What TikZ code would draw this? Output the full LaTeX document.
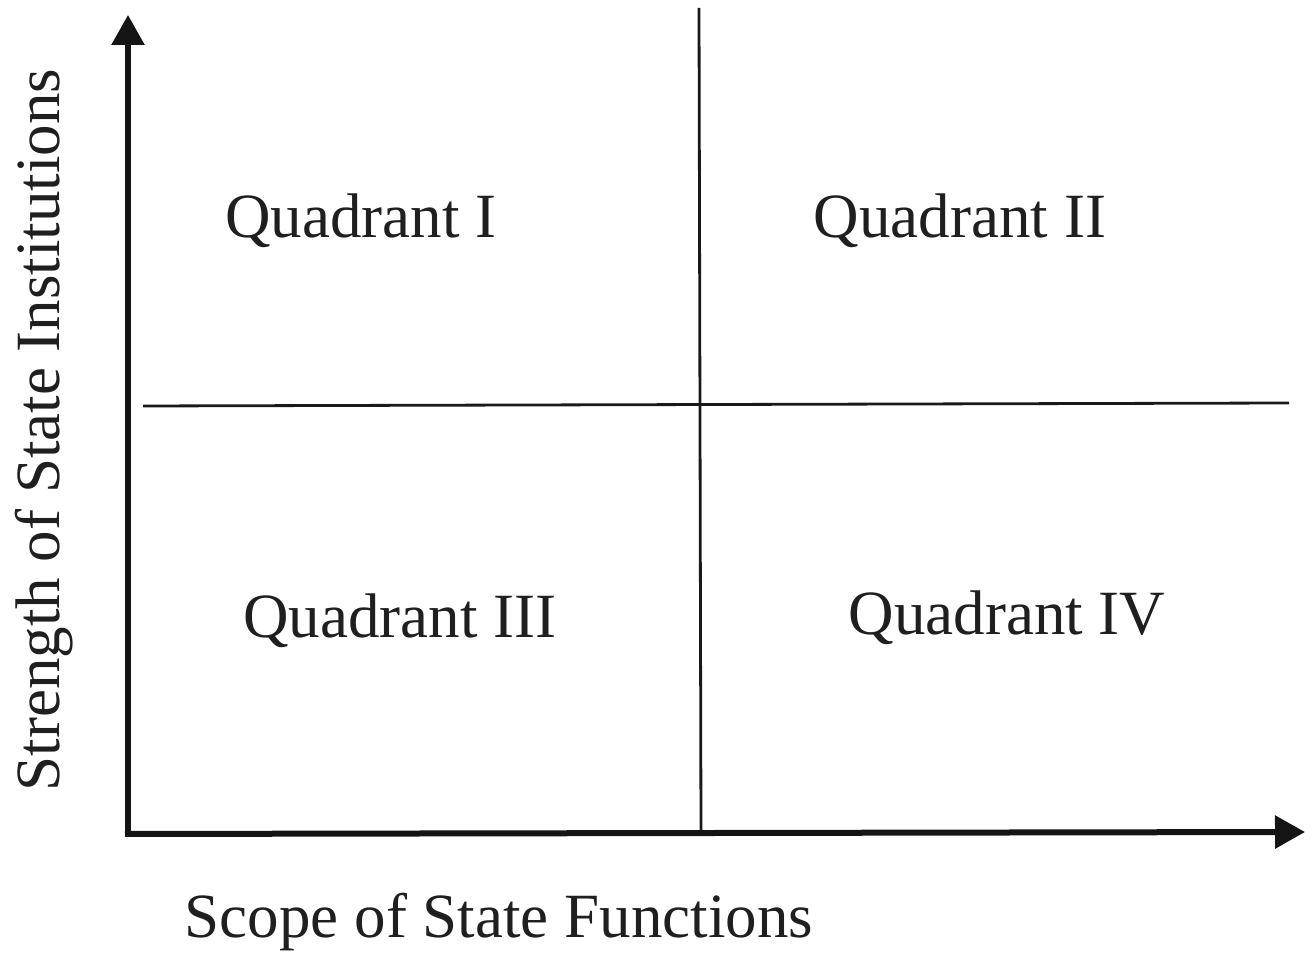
\documentclass[tikz,border=0pt]{standalone}
\usepackage{fontspec}
\setmainfont{Liberation Serif}
\usepackage{tikz}
\usetikzlibrary{arrows.meta,positioning}
\tikzset{
  bigfont/.style={font=\fontsize{31.5}{36}\selectfont},
  axisline/.style={line width=3pt, draw=black!92, -{Triangle[length=15pt,width=16pt]}},
  divline/.style={line width=1.4pt, draw=black!90},
  quadlbl/.style={bigfont, anchor=base, inner sep=0pt, text=black!88},
  axislbl/.style={bigfont, anchor=base, inner sep=0pt, text=black!88},
}

\begin{document}
\begin{tikzpicture}[x=0.5pt, y=0.5pt]
  \useasboundingbox (0,0) rectangle (1313,954);
  % axes
  \coordinate (o) at (128,120);
  \coordinate (ytop) at (128,939);
  \coordinate (xend) at (1305,122);
  % dividers
  \coordinate (vtop) at (699,946);
  \coordinate (vbot) at (701,121);
  \coordinate (hleft) at (143,548);
  \coordinate (hright) at (1289,551);
  \draw[divline] (vbot) -- (vtop);
  \draw[divline] (hleft) -- (hright);
  \draw[axisline] ([yshift=-1.5pt]o) -- (ytop);
  \draw[axisline] ([xshift=-1.5pt]o) -- (xend);
  % quadrant labels
  \node[quadlbl] (q1) at (361,716) {Quadrant I};
  \node[quadlbl] (q2) at (960,716) {Quadrant II};
  \node[quadlbl] (q3) at (400,316) {Quadrant III};
  \node[quadlbl] (q4) at (1007,319) {Quadrant IV};
  % axis labels
  \node[axislbl] (xlbl) at (499,17) {Scope of State Functions};
  \node[axislbl, rotate=90] (ylbl) at (60,524) {Strength of State Institutions};
\end{tikzpicture}
\end{document}
